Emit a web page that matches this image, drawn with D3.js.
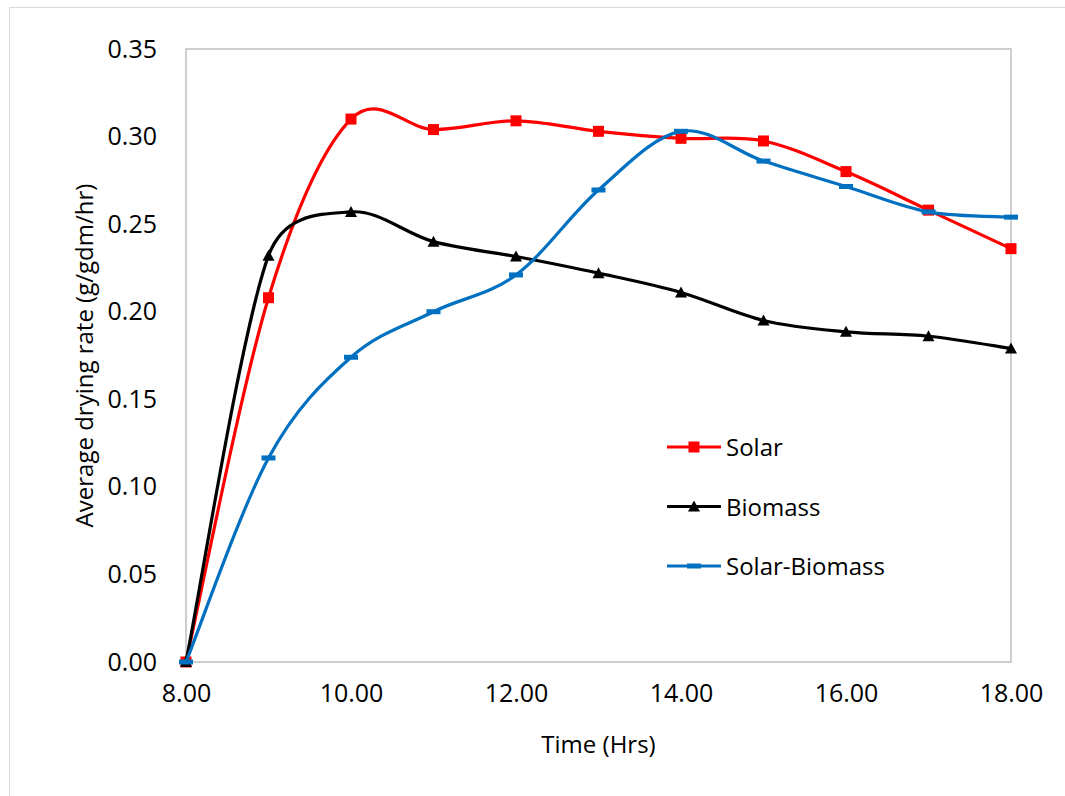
<!DOCTYPE html>
<html>
<head>
    <script src="https://cdn.jsdelivr.net/npm/d3@7"></script>
    <style>
        body { margin: 0; background: #fff; }
        text { font-family: "Open Sans", sans-serif; fill: #000; }
    </style>
</head>

<body>
<div id="chart"></div>

<script>

    // data
    var hours = [8, 9, 10, 11, 12, 13, 14, 15, 16, 17, 18];
    var solar = [0, 0.208, 0.310, 0.304, 0.309, 0.303, 0.299, 0.2975, 0.280, 0.258, 0.236];
    var biomass = [0, 0.232, 0.257, 0.240, 0.2315, 0.222, 0.211, 0.195, 0.1885, 0.186, 0.179];
    var solarBiomass = [0, 0.1165, 0.174, 0.200, 0.221, 0.2695, 0.303, 0.286, 0.2715, 0.257, 0.254];
    var xTicks = [8, 10, 12, 14, 16, 18];
    var yTicks = [0, 0.05, 0.10, 0.15, 0.20, 0.25, 0.30, 0.35];
    var seriesNames = ['Solar', 'Biomass', 'Solar-Biomass'];

    var width = 1065;
    var height = 796;
    var plot = { left: 186, top: 49, right: 1011, bottom: 662 };

    var xScale = d3.scaleLinear()
        .domain([8, 18])
        .range([plot.left, plot.right]);

    var yScale = d3.scaleLinear()
        .domain([0, 0.35])
        .range([plot.bottom, plot.top]);

    var svg = d3.select('#chart').append('svg')
        .attr('width', width)
        .attr('height', height);

    // chart area border (only top/left visible in frame)
    svg.append('rect')
        .attr('x', 9.5).attr('y', 7.5)
        .attr('width', 1070).attr('height', 800)
        .attr('fill', 'none')
        .attr('stroke', '#d9d9d9')
        .attr('stroke-width', 1);

    // plot area border
    svg.append('rect')
        .attr('x', plot.left).attr('y', plot.top)
        .attr('width', plot.right - plot.left)
        .attr('height', plot.bottom - plot.top)
        .attr('fill', 'none')
        .attr('stroke', '#bfbfbf')
        .attr('stroke-width', 1.5);

    var yAxis = svg.append('g')
        .attr('transform', 'translate(' + (plot.left - 29) + ',0)')
        .call(d3.axisLeft(yScale).tickValues(yTicks).tickSize(0).tickPadding(0)
            .tickFormat(d3.format('.2f')));
    yAxis.select('.domain').remove();
    yAxis.selectAll('text')
        .attr('font-size', 25)
        .attr('font-family', '"Open Sans", sans-serif')
        .attr('fill', '#000');

    var xAxis = svg.append('g')
        .attr('transform', 'translate(0,' + (plot.bottom + 22) + ')')
        .call(d3.axisBottom(xScale).tickValues(xTicks).tickSize(0).tickPadding(0)
            .tickFormat(d3.format('.2f')));
    xAxis.select('.domain').remove();
    xAxis.selectAll('text')
        .attr('font-size', 25)
        .attr('font-family', '"Open Sans", sans-serif')
        .attr('fill', '#000');

    svg.append('text')
        .attr('x', (plot.left + plot.right) / 2)
        .attr('y', 753)
        .attr('text-anchor', 'middle')
        .attr('font-size', 24)
        .text('Time (Hrs)');

    svg.append('text')
        .attr('transform', 'translate(93,' + ((plot.top + plot.bottom) / 2) + ') rotate(-90)')
        .attr('text-anchor', 'middle')
        .attr('font-size', 24)
        .text('Average drying rate (g/gdm/hr)');

    var series = [
        { name: seriesNames[0], values: solar, color: '#ff0000', marker: 'square' },
        { name: seriesNames[1], values: biomass, color: '#000000', marker: 'triangle' },
        { name: seriesNames[2], values: solarBiomass, color: '#0070c0', marker: 'dash' }
    ];

    // Excel-like smoothing: catmull-rom tangents, handles kept within half a segment
    function smoothCurve(context) {
        var pts = [];
        function handle(a, b, len) {
            var dx = (b[0] - a[0]) / 6, dy = (b[1] - a[1]) / 6;
            var l = Math.sqrt(dx * dx + dy * dy);
            var max = 0.5 * len;
            if (l > max && l > 0) { dx *= max / l; dy *= max / l; }
            return [dx, dy];
        }
        return {
            areaStart: function() {},
            areaEnd: function() {},
            lineStart: function() { pts = []; },
            point: function(x, y) { pts.push([+x, +y]); },
            lineEnd: function() {
                var n = pts.length;
                if (!n) return;
                context.moveTo(pts[0][0], pts[0][1]);
                for (var i = 0; i < n - 1; i++) {
                    var p0 = pts[i - 1] || pts[i],
                        p1 = pts[i],
                        p2 = pts[i + 1],
                        p3 = pts[i + 2] || pts[i + 1];
                    var len = Math.hypot(p2[0] - p1[0], p2[1] - p1[1]);
                    var t1 = handle(p0, p2, len), t2 = handle(p1, p3, len);
                    context.bezierCurveTo(p1[0] + t1[0], p1[1] + t1[1],
                        p2[0] - t2[0], p2[1] - t2[1], p2[0], p2[1]);
                }
            }
        };
    }

    var line = d3.line()
        .x(function(d, i) { return xScale(hours[i]); })
        .y(function(d) { return yScale(d); })
        .curve(smoothCurve);

    function drawMarker(sel, type, color) {
        if (type === 'square') {
            sel.append('rect')
                .attr('x', -5.5).attr('y', -5.5)
                .attr('width', 11).attr('height', 11)
                .attr('fill', color);
        } else if (type === 'triangle') {
            sel.append('path')
                .attr('d', 'M0,-6 L6,5 L-6,5 Z')
                .attr('fill', color);
        } else {
            sel.append('rect')
                .attr('x', -7).attr('y', -2.5)
                .attr('width', 14).attr('height', 5)
                .attr('fill', color);
        }
    }

    series.forEach(function(s) {
        svg.append('path')
            .attr('d', line(s.values))
            .attr('fill', 'none')
            .attr('stroke', s.color)
            .attr('stroke-width', 3.2)
            .attr('stroke-linejoin', 'round');

        s.values.forEach(function(v, i) {
            var m = svg.append('g')
                .attr('transform', 'translate(' + xScale(hours[i]) + ',' + yScale(v) + ')');
            drawMarker(m, s.marker, s.color);
        });
    });

    // legend
    var legend = svg.append('g');
    series.forEach(function(s, i) {
        var y = 447 + i * 59.5;
        legend.append('line')
            .attr('x1', 667).attr('x2', 721)
            .attr('y1', y).attr('y2', y)
            .attr('stroke', s.color)
            .attr('stroke-width', 3.2);
        var m = legend.append('g').attr('transform', 'translate(694,' + y + ')');
        drawMarker(m, s.marker, s.color);
        legend.append('text')
            .attr('x', 726)
            .attr('y', y + 9)
            .attr('font-size', 24)
            .text(s.name);
    });

</script>
</body>
</html>
